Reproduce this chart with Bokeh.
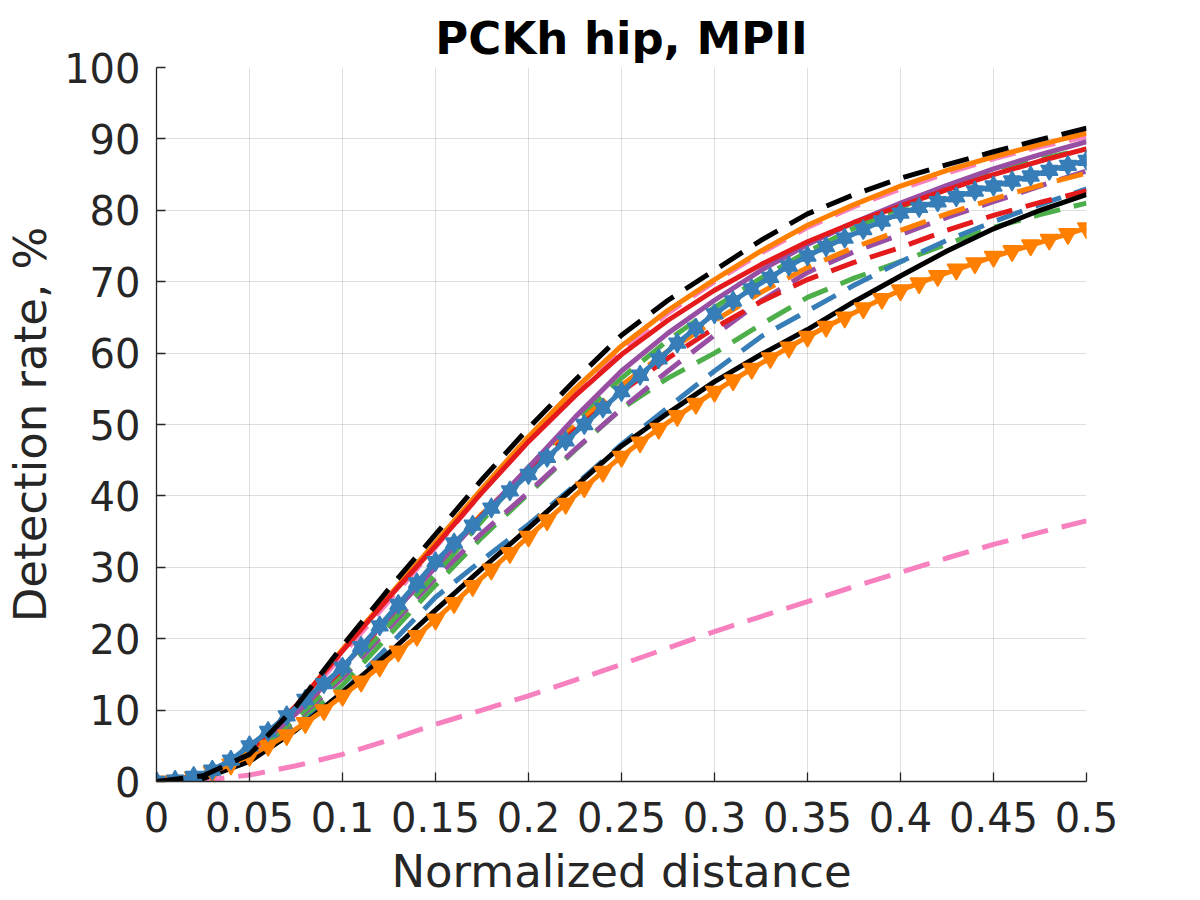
from bokeh.plotting import figure
from bokeh.models import FixedTicker, CustomJSTickFormatter, Range1d
from bokeh.embed import file_html
from bokeh.resources import INLINE

# ---------------- data ----------------
x_line = [round(i * 0.025, 3) for i in range(21)]   # 0 .. 0.5 step 0.025
x_mark = [round(i * 0.01, 2) for i in range(51)]    # 0 .. 0.5 step 0.01

black_dashed = [0, 0.8, 3.8, 10.5, 19, 27, 34.6, 42.3, 49.5, 56.2, 62.5, 67.4, 71.6, 75.8, 79.5, 82.2, 84.5, 86.4, 88.2, 89.9, 91.5]
orange_solid = [0, 0.8, 4.0, 10.5, 18.5, 26, 33.5, 41, 48.3, 55, 61, 66, 70.3, 74.3, 77.9, 80.8, 83.4, 85.6, 87.5, 89.2, 90.8]
pink_dashed_hi = [0, 0.7, 3.6, 10, 17.8, 25.3, 32.8, 40.5, 48, 54.6, 60.5, 65.6, 70, 74, 77.6, 80.5, 83, 85.2, 87.2, 88.9, 90.3]
red_solid = [0, 0.9, 4.3, 10.6, 18.3, 25.8, 33, 40.5, 47.6, 54, 59.8, 64.6, 68.8, 72.4, 75.6, 78.3, 80.6, 82.9, 85, 86.9, 88.6]
purple_solid = [0, 0.8, 4.0, 9.5, 16, 23, 30, 37.2, 44, 51, 57.5, 62.8, 67.4, 71.6, 75.2, 78.3, 81, 83.5, 85.8, 87.8, 89.6]
green_dashed_hi = [0, 0.7, 3.5, 8.8, 15, 22, 29, 36.5, 44, 50.5, 56.5, 61.8, 66.4, 70.5, 74.2, 77.5, 80.4, 83.1, 85.6, 87.2, 88.6]
orange_dashed = [0, 0.8, 4, 9.5, 15.8, 23, 30.5, 37.5, 43.5, 49.8, 55.5, 60.3, 64.5, 68.5, 72, 74.8, 77.2, 79.5, 81.6, 83.5, 85.2]
purple_dashed = [0, 0.7, 3.5, 8.6, 14.5, 21.5, 28.5, 34.8, 40.5, 46.5, 52.2, 57.5, 62.5, 67.3, 71.3, 74.2, 76.6, 79, 81.2, 83.4, 85.5]
red_dashed = [0, 0.8, 4, 9.6, 15.7, 23, 30.5, 37.3, 43.4, 49.2, 54.6, 59.3, 63.5, 67.2, 70.3, 72.7, 74.8, 77.2, 79.3, 81.1, 82.7]
green_dashed_lo = [0, 0.6, 3.2, 8, 13.5, 20.5, 27.5, 34.2, 40.3, 46.4, 52.2, 56.5, 60, 64, 67.8, 70.5, 72.8, 75.3, 77.6, 79.4, 81]
blue_dashed = [0, 0.5, 3, 7.5, 12.5, 19, 25.8, 31, 36, 41.5, 47.2, 52.4, 57.5, 62.3, 65.9, 69.5, 72.8, 75.8, 78.4, 80.8, 83]
black_solid = [0, 0.4, 2.8, 7.2, 12.5, 18, 24, 29.8, 35.5, 41.3, 47, 51.6, 56, 59.8, 63.3, 67.2, 70.8, 74.3, 77.4, 80, 82.2]
pink_dashed_lo = [0, 0.15, 0.9, 2.2, 3.8, 5.8, 8, 10, 12, 14.2, 16.4, 18.7, 21, 23.1, 25.2, 27.3, 29.3, 31.3, 33.2, 34.9, 36.5]

blue_star = [0, 0.2, 0.7, 1.6, 3.0, 5.0, 7.0, 9.2, 11.5, 13.7,
             16.0, 18.9, 21.8, 24.8, 27.8, 30.8, 33.4, 35.9, 38.3, 40.7,
             43.0, 45.4, 47.7, 50.0, 52.3, 54.6, 56.9, 59.2, 61.4, 63.5,
             65.5, 67.3, 69.0, 70.6, 72.2, 73.6, 74.9, 76.1, 77.3, 78.5,
             79.6, 80.4, 81.2, 81.9, 82.7, 83.4, 84.1, 84.8, 85.6, 86.3, 87.0]
orange_tri = [0, 0.1, 0.6, 1.4, 2.4, 3.6, 5.0, 6.5, 8.2, 10.0,
              12.0, 14.0, 16.1, 18.2, 20.4, 22.7, 25.0, 27.4, 29.7, 32.0,
              34.3, 36.6, 38.9, 41.2, 43.4, 45.5, 47.5, 49.4, 51.2, 52.9,
              54.6, 56.2, 57.8, 59.3, 60.8, 62.3, 63.7, 65.0, 66.3, 67.6,
              68.8, 69.8, 70.8, 71.7, 72.6, 73.5, 74.3, 75.1, 75.9, 76.7, 77.5]

x_ticks = [0, 0.05, 0.1, 0.15, 0.2, 0.25, 0.3, 0.35, 0.4, 0.45, 0.5]
y_ticks = [0, 10, 20, 30, 40, 50, 60, 70, 80, 90, 100]

# ---------------- styles ----------------
RED, BLUE, GREEN, PURPLE, ORANGE, PINK, BLACK = "#e41a1c", "#377eb8", "#4daf4a", "#984ea3", "#ff7f00", "#f781bf", "#000000"
TXT = "#262626"
FONT = "DejaVu Sans"
LW = 5
DASH = "27 14"

p = figure(width=1200, height=900, output_backend="svg", toolbar_location=None,
           x_range=Range1d(0, 0.5), y_range=Range1d(0, 100),
           min_border_left=156, min_border_right=114, min_border_top=67, min_border_bottom=118)
p.outline_line_color = None
p.background_fill_color = "white"
p.border_fill_color = "white"

p.title.text = "PCKh hip, MPII"
p.title.align = "center"
p.title.text_font = FONT
p.title.text_font_size = "45px"
p.title.text_font_style = "bold"
p.title.text_color = "#000000"
p.title.standoff = 6

for ax in (p.xaxis[0], p.yaxis[0]):
    ax.axis_line_color = TXT
    ax.axis_line_width = 1.3
    ax.major_tick_line_color = TXT
    ax.major_tick_line_width = 1.3
    ax.major_tick_in = 9
    ax.major_tick_out = 0
    ax.minor_tick_in = 0
    ax.minor_tick_out = 0
    ax.major_label_text_font = FONT
    ax.major_label_text_font_size = "40px"
    ax.major_label_text_color = TXT
    ax.axis_label_text_font = FONT
    ax.axis_label_text_font_size = "45px"
    ax.axis_label_text_font_style = "normal"
    ax.axis_label_text_color = TXT

p.xaxis.ticker = FixedTicker(ticks=x_ticks)
p.yaxis.ticker = FixedTicker(ticks=y_ticks)
p.xaxis.formatter = CustomJSTickFormatter(code="return (Math.round(tick*100)/100).toString();")
p.xaxis.axis_label = "Normalized distance"
p.yaxis.axis_label = "Detection rate, %"
p.xaxis.major_label_standoff = 20
p.xaxis.axis_label_standoff = 10
p.yaxis.major_label_standoff = 16
p.yaxis.axis_label_standoff = 4

p.xgrid.ticker = FixedTicker(ticks=x_ticks)
p.ygrid.ticker = FixedTicker(ticks=y_ticks)
for g in (p.xgrid[0], p.ygrid[0]):
    g.grid_line_color = TXT
    g.grid_line_alpha = 0.15
    g.grid_line_width = 1

# ---------------- series (bottom to top) ----------------
p.line(x_line, pink_dashed_lo, line_color=PINK, line_width=LW, line_dash=DASH)
p.line(x_line, green_dashed_lo, line_color=GREEN, line_width=LW, line_dash=DASH)
p.line(x_line, blue_dashed, line_color=BLUE, line_width=LW, line_dash=DASH)
p.line(x_line, purple_dashed, line_color=PURPLE, line_width=LW, line_dash=DASH)
p.line(x_line, green_dashed_hi, line_color=GREEN, line_width=LW, line_dash=DASH)
p.line(x_line, orange_dashed, line_color=ORANGE, line_width=LW, line_dash=DASH)
p.line(x_line, red_dashed, line_color=RED, line_width=LW, line_dash=DASH)
p.line(x_line, pink_dashed_hi, line_color=PINK, line_width=LW, line_dash=DASH)
p.line(x_line, purple_solid, line_color=PURPLE, line_width=LW)
p.line(x_line, orange_solid, line_color=ORANGE, line_width=LW)
p.line(x_line, red_solid, line_color=RED, line_width=LW)
p.line(x_line, black_solid, line_color=BLACK, line_width=LW)

p.line(x_mark, orange_tri, line_color=ORANGE, line_width=LW)
p.scatter(x_mark, orange_tri, marker="inverted_triangle", size=18,
          fill_color=ORANGE, line_color=ORANGE, line_width=1.5)

p.line(x_mark, blue_star, line_color=BLUE, line_width=LW)
p.scatter(x_mark, blue_star, marker="triangle", size=17,
          fill_color=BLUE, line_color=BLUE, line_width=1.5)
p.scatter(x_mark, blue_star, marker="inverted_triangle", size=17,
          fill_color=BLUE, line_color=BLUE, line_width=1.5)

p.line(x_line, black_dashed, line_color=BLACK, line_width=LW, line_dash=DASH)

open("out.html", "w").write(file_html(p, INLINE))
